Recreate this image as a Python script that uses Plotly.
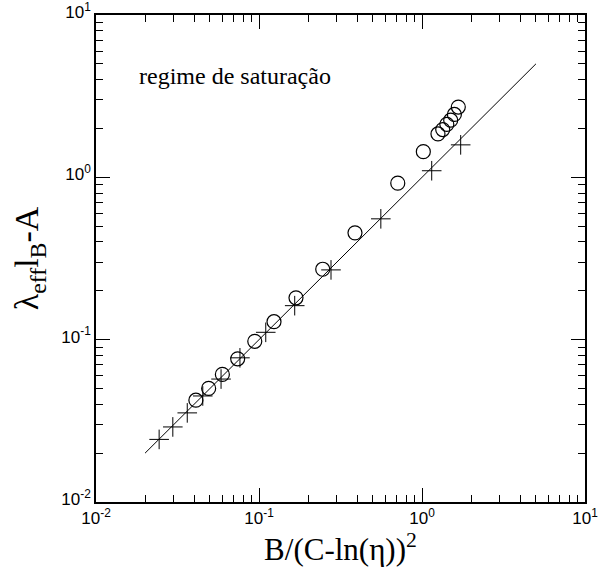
import plotly.graph_objects as go

# Data
circ_x = [0.0410, 0.0491, 0.0596, 0.0740, 0.0942, 0.1236, 0.1686, 0.246, 0.388, 0.710, 1.019, 1.253, 1.34, 1.42, 1.50, 1.58, 1.67]
circ_y = [0.0424, 0.0501, 0.0611, 0.0762, 0.0977, 0.129, 0.181, 0.2716, 0.455, 0.921, 1.44, 1.85, 1.97, 2.12, 2.25, 2.44, 2.71]
cross_x = [0.0244, 0.0296, 0.0363, 0.0452, 0.0585, 0.0764, 0.110, 0.1656, 0.2765, 0.559, 1.147, 1.727]
cross_y = [0.0243, 0.0290, 0.0354, 0.0450, 0.0572, 0.0773, 0.111, 0.162, 0.269, 0.555, 1.098, 1.585]
line_x = [0.02, 5.0]
line_y = [0.02, 5.0]

major_vals = [0.01, 0.1, 1, 10]
major_text = ["10<sup>-2</sup>", "10<sup>-1</sup>", "10<sup>0</sup>", "10<sup>1</sup>"]
minor_vals = [m * d for d in [0.01, 0.1, 1] for m in range(2, 10)]

fig = go.Figure()
fig.add_trace(go.Scatter(x=line_x, y=line_y, mode="lines",
                         line=dict(color="black", width=1), showlegend=False))
fig.add_trace(go.Scatter(x=circ_x, y=circ_y, mode="markers",
                         marker=dict(symbol="circle-open", size=14, color="black",
                                     line=dict(width=1.2, color="black")),
                         showlegend=False))
fig.add_trace(go.Scatter(x=cross_x, y=cross_y, mode="markers",
                         marker=dict(symbol="cross-thin-open", size=14, color="black",
                                     line=dict(width=1, color="black")),
                         showlegend=False))

axis_common = dict(
    type="log", range=[-2, 1], showgrid=False, zeroline=False, automargin=False,
    showline=True, linecolor="black", linewidth=1.5, mirror="allticks",
    ticks="inside", ticklen=14, tickwidth=1, tickcolor="black",
    tickmode="array", tickvals=major_vals, ticktext=major_text,
    ticklabeloverflow="allow",
    tickfont=dict(family="Liberation Sans, Arial", size=17, color="black"),
    minor=dict(ticks="inside", ticklen=7, tickwidth=1, tickcolor="black",
               tickmode="array", tickvals=minor_vals, showgrid=False),
)

fig.update_xaxes(**axis_common,
                 title=dict(text="B/(C-ln(η))<sup>2</sup>",
                            font=dict(family="Liberation Serif, Times New Roman", size=31, color="black"),
                            standoff=4))
fig.update_yaxes(**axis_common, ticklabelshift=-3,
                 title=dict(text="λ<sub>eff</sub>l<sub>B</sub>-A",
                            font=dict(family="Liberation Serif, Times New Roman", size=34, color="black"),
                            standoff=12))

fig.add_annotation(x=-1.75, y=0.624, xref="x", yref="y", text="regime de saturação",
                   showarrow=False, xanchor="left", yanchor="middle",
                   font=dict(family="Liberation Serif, Times New Roman", size=24, color="black"))

fig.update_layout(width=599, height=582,
                  margin=dict(l=96, r=14, t=15, b=80),
                  plot_bgcolor="white", paper_bgcolor="white")

# remove the default 8px page margin so the figure fills the window exactly
fig.write_html("out.html", config={"displayModeBar": False},
               post_script="document.body.style.margin='0';")
